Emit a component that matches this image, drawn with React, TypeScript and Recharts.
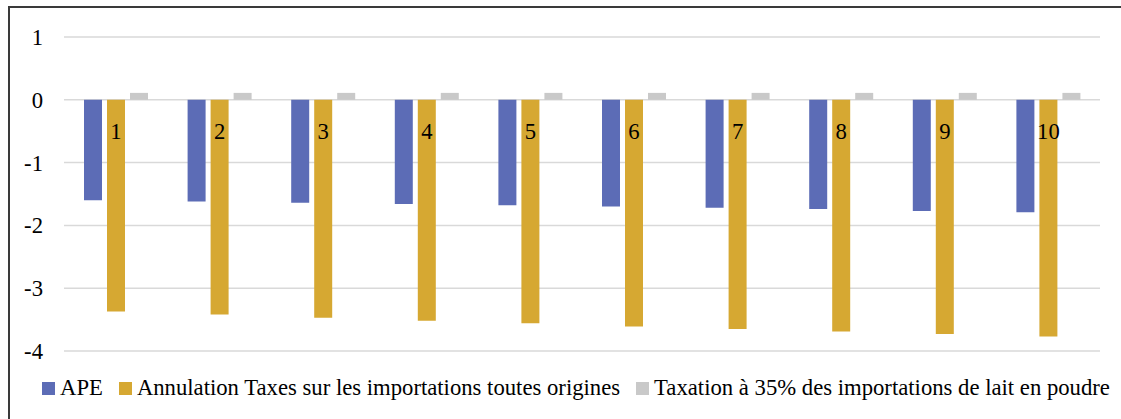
import { BarChart, Bar, XAxis, YAxis, CartesianGrid, Legend, LabelList } from 'recharts';

const categories = ['1', '2', '3', '4', '5', '6', '7', '8', '9', '10'];
const apeValues = [-1.6, -1.62, -1.64, -1.66, -1.68, -1.7, -1.72, -1.74, -1.77, -1.79];
const annulationValues = [-3.37, -3.42, -3.47, -3.52, -3.56, -3.61, -3.65, -3.69, -3.73, -3.77];
const taxationValues = [0.11, 0.11, 0.11, 0.11, 0.11, 0.11, 0.11, 0.11, 0.11, 0.11];
const yTicks = [-4, -3, -2, -1, 0, 1];

const seriesNames = {
  ape: 'APE',
  annulation: 'Annulation Taxes sur les importations toutes origines',
  taxation: 'Taxation à 35% des importations de lait en poudre',
};

const colors = {
  ape: '#5c6cb6',
  annulation: '#d6a832',
  taxation: '#c9c9c9',
};

const data = categories.map((cat, i) => ({
  cat,
  ape: apeValues[i],
  annulation: annulationValues[i],
  taxation: taxationValues[i],
}));

const FONT = 'Liberation Serif';
const FONT_SIZE = 22.7;

// category label sits just under the zero line, centred on the orange bar
const CategoryLabel = (props: any) => {
  const vb = props.viewBox || props;
  const top = Math.min(vb.y, vb.y + vb.height);
  return (
    <text x={vb.x + vb.width / 2} y={top + 39} textAnchor="middle" style={{ fontFamily: FONT, fontSize: FONT_SIZE }} fill="#000">
      {props.value}
    </text>
  );
};

const LegendContent = (props: any) => {
  const items = props.payload || [];
  return (
    <div style={{ height: 68, display: 'flex', alignItems: 'center', paddingLeft: 42, paddingTop: 6, boxSizing: 'border-box', fontFamily: FONT, fontSize: FONT_SIZE, color: '#000', whiteSpace: 'nowrap' }}>
      {items.map((it: any) => (
        <span key={it.value} style={{ display: 'flex', alignItems: 'center', marginRight: 16 }}>
          <span style={{ width: 13, height: 13, background: it.color, marginRight: 5, display: 'inline-block' }} />
          {it.value}
        </span>
      ))}
    </div>
  );
};

export default function App() {
  return (
    <div style={{ position: 'fixed', left: 0, top: 0, width: 1121, height: 419, overflow: 'hidden', background: '#fff', fontFamily: FONT }}>
      <div style={{ position: 'absolute', left: 8, top: 6, width: 1300, height: 600, borderLeft: '2px solid #3a3a3a', borderTop: '2px solid #3a3a3a' }} />
      <div style={{ position: 'absolute', left: 0, top: 0 }}>
        <BarChart width={1121} height={419} data={data} margin={{ top: 37, right: 21, left: 0, bottom: 0 }} barSize={18} barGap={5}>
          <CartesianGrid horizontal vertical={false} stroke="#d9d9d9" strokeWidth={1.5} />
          <XAxis dataKey="cat" hide />
          <YAxis
            domain={[-4, 1]}
            ticks={yTicks}
            interval={0}
            width={64}
            axisLine={false}
            tickLine={false}
            tickMargin={15}
            tick={{ fontFamily: FONT, fontSize: FONT_SIZE, fill: '#000' }}
          />
          <Legend verticalAlign="bottom" wrapperStyle={{ left: 0, width: 1121 }} content={LegendContent} />
          <Bar dataKey="ape" name={seriesNames.ape} fill={colors.ape} isAnimationActive={false} />
          <Bar dataKey="annulation" name={seriesNames.annulation} fill={colors.annulation} isAnimationActive={false}>
            <LabelList dataKey="cat" content={CategoryLabel} />
          </Bar>
          <Bar dataKey="taxation" name={seriesNames.taxation} fill={colors.taxation} isAnimationActive={false} />
        </BarChart>
      </div>
    </div>
  );
}
